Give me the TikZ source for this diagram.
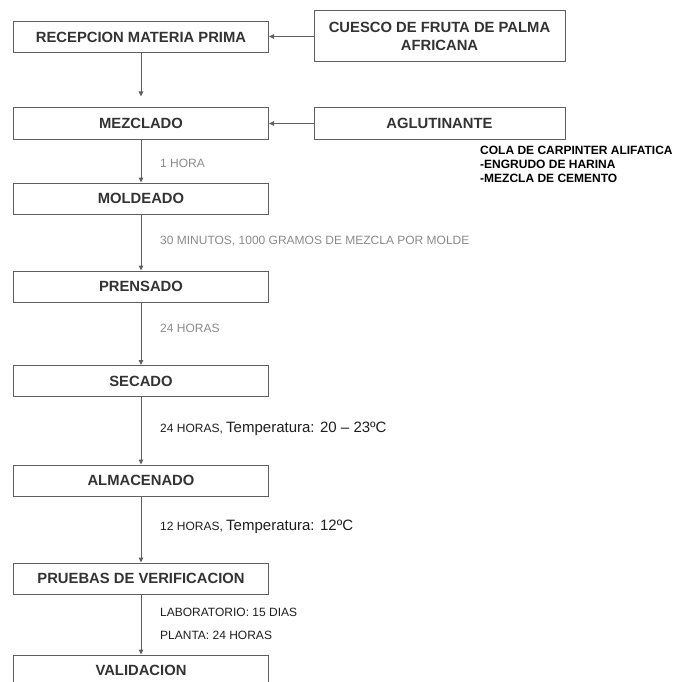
\documentclass[tikz,border=0pt]{standalone}
\usepackage{fontspec}
\setmainfont{Liberation Sans}
\usetikzlibrary{arrows.meta}
\definecolor{boxline}{HTML}{606060}
\definecolor{boxtext}{HTML}{333333}
\definecolor{notegray}{HTML}{8A8A8A}
\definecolor{notedark}{HTML}{1E1E1E}
\begin{document}
\begin{tikzpicture}[x=1pt,y=-1pt,
  stepbox/.style={draw=boxline, line width=1pt, minimum height=31pt,
    inner sep=0pt, text=boxtext, align=center,
    font=\fontsize{14.8}{18}\selectfont\bfseries},
  mainbox/.style={stepbox, minimum width=255pt},
  sidebox/.style={stepbox, minimum width=251pt},
  flow/.style={draw=boxline, line width=1pt,
    -{Triangle[length=5pt,width=4.5pt]}},
  note/.style={anchor=west, inner sep=0pt,
    font=\fontsize{12}{14}\selectfont, text=notegray},
  notedk/.style={note, text=notedark},
  additive/.style={anchor=west, inner sep=0pt, text=black,
    font=\fontsize{12}{14}\selectfont\bfseries}]
\useasboundingbox (0,0) rectangle (678,682);

% main process column
\node[mainbox] (rec) at (141,37.5) {RECEPCION MATERIA PRIMA};
\node[mainbox] (mez) at (141,123.5) {MEZCLADO};
\node[mainbox] (mol) at (141,198.5) {MOLDEADO};
\node[mainbox] (pre) at (141,286.5) {PRENSADO};
\node[mainbox] (sec) at (141,381) {SECADO};
\node[mainbox] (alm) at (141,480.5) {ALMACENADO};
\node[mainbox] (pru) at (141,578.5) {PRUEBAS DE VERIFICACION};
\node[mainbox] (val) at (141,670.5) {VALIDACION};

% inputs
\node[sidebox, minimum height=51pt] (cue) at (439.5,36.5) {CUESCO DE FRUTA DE PALMA\\AFRICANA};
\node[sidebox] (agl) at (439.5,123.5) {AGLUTINANTE};

% binder options
\node[additive] (opt1) at (480,150) {COLA DE CARPINTER ALIFATICA};
\node[additive] (opt2) at (480,164) {-ENGRUDO DE HARINA};
\node[additive] (opt3) at (480,178) {-MEZCLA DE CEMENTO};

% connectors
\draw[flow] (cue.west) -- (cue.west -| rec.east);
\draw[flow] (agl.west) -- (agl.west -| mez.east);
\draw[flow] (rec.south) -- ([yshift=11pt]mez.north);
\draw[flow] (mez) -- (mol);
\draw[flow] (mol) -- (pre);
\draw[flow] (pre) -- (sec);
\draw[flow] (sec) -- (alm);
\draw[flow] (alm) -- (pru);
\draw[flow] (pru) -- (val);

% step conditions
\node[note] (t1) at (160,163) {1 HORA};
\node[note] (t2) at (160,241) {30 MINUTOS, 1000 GRAMOS DE MEZCLA POR MOLDE};
\node[note] (t3) at (160,328) {24 HORAS};
\node[notedk] (t4) at (160,429) {24 HORAS, {\fontsize{15}{17}\selectfont Temperatura: 20 – 23ºC}};
\node[notedk] (t5) at (160,527) {12 HORAS, {\fontsize{15}{17}\selectfont Temperatura: 12ºC}};
\node[notedk] (t6) at (160,612) {LABORATORIO: 15 DIAS};
\node[notedk] (t7) at (160,635) {PLANTA: 24 HORAS};
\end{tikzpicture}
\end{document}
